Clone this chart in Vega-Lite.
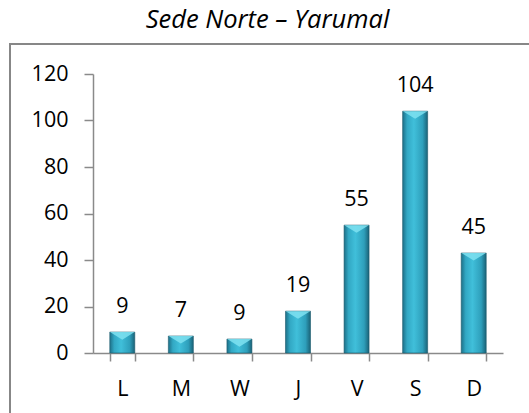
{
  "$schema": "https://vega.github.io/schema/vega-lite/v6.json",
  "autosize": {"type": "none"},
  "width": 525,
  "height": 375,
  "padding": {"left": 10, "top": 44, "right": -6, "bottom": -6},
  "background": "white",
  "title": {
    "text": "Sede Norte – Yarumal",
    "font": "Open Sans",
    "fontSize": 25.5,
    "fontStyle": "italic",
    "fontWeight": "normal",
    "color": "#000000",
    "anchor": "middle",
    "baseline": "alphabetic",
    "offset": 13,
    "dx": -5,
    "dy": 22
  },
  "config": {
    "view": {"stroke": "#878787", "strokeWidth": 2, "fill": "white"},
    "axis": {
      "labelFont": "Open Sans",
      "labelFontSize": 21.5,
      "labelColor": "#000000",
      "domainColor": "#8a8a8a",
      "domainWidth": 1.5,
      "tickColor": "#8a8a8a",
      "tickWidth": 1.5,
      "grid": false,
      "title": null
    }
  },
  "data": {
    "values": [
      {"dia": "L", "barra": 9, "etiqueta": 9},
      {"dia": "M", "barra": 7.3, "etiqueta": 7},
      {"dia": "W", "barra": 6, "etiqueta": 9},
      {"dia": "J", "barra": 18, "etiqueta": 19},
      {"dia": "V", "barra": 55, "etiqueta": 55},
      {"dia": "S", "barra": 104, "etiqueta": 104},
      {"dia": "D", "barra": 43, "etiqueta": 45}
    ]
  },
  "encoding": {
    "x": {
      "field": "dia",
      "type": "nominal",
      "sort": null,
      "scale": {"range": [83, 493], "paddingInner": 0.573, "paddingOuter": 0.2865},
      "axis": {
        "offset": -66,
        "labelAngle": 0,
        "tickBand": "extent",
        "tickSize": 8,
        "labelPadding": 17
      }
    },
    "y": {
      "field": "barra",
      "type": "quantitative",
      "scale": {"domain": [0, 120], "range": [309, 30], "nice": false, "zero": true},
      "axis": {
        "offset": -83,
        "values": [0, 20, 40, 60, 80, 100, 120],
        "tickSize": 9,
        "labelPadding": 16
      }
    }
  },
  "layer": [
    {
      "mark": {
        "type": "bar",
        "stroke": "#1d5b6d",
        "strokeWidth": 0.6,
        "color": {
          "gradient": "linear",
          "x1": 0, "x2": 1, "y1": 0, "y2": 0,
          "stops": [
            {"offset": 0, "color": "#1d7088"},
            {"offset": 0.18, "color": "#32a8c4"},
            {"offset": 0.45, "color": "#40bfda"},
            {"offset": 0.8, "color": "#2e9fbb"},
            {"offset": 1, "color": "#1a6277"}
          ]
        }
      }
    },
    {
      "mark": {
        "type": "point",
        "shape": "M -1 0 L 1 0 L 0 0.62 Z",
        "size": 600,
        "filled": true,
        "color": "#7fe2f1",
        "opacity": 0.85,
        "strokeWidth": 0
      }
    },
    {
      "mark": {
        "type": "text",
        "font": "Open Sans",
        "fontSize": 21.5,
        "color": "#000000",
        "baseline": "alphabetic",
        "dy": -19
      },
      "encoding": {"text": {"field": "etiqueta", "type": "quantitative"}}
    }
  ]
}
